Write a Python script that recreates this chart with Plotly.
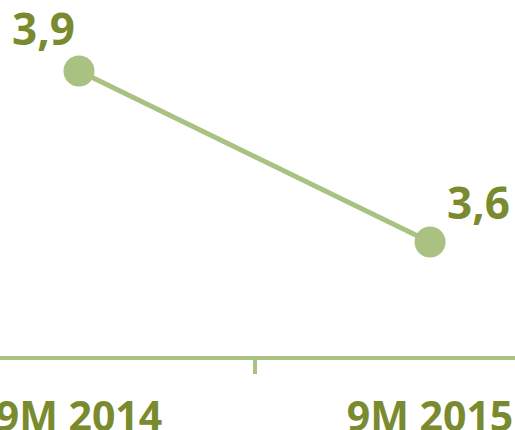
import plotly.graph_objects as go

categories = ["9M 2014", "9M 2015"]
values = [3.9, 3.6]
value_labels = ["3,9", "3,6"]

line_color = "#A9C282"
text_color = "#7A8A2E"
font_family = "Open Sans, Lato, sans-serif"

fig = go.Figure()
fig.add_trace(go.Scatter(
    x=categories, y=values, mode="lines+markers",
    line=dict(color=line_color, width=5),
    marker=dict(size=31, color=line_color),
    hoverinfo="skip", showlegend=False, cliponaxis=False,
))

shifts = [(-35, 43), (48, 40)]
for c, v, t, (dx, dy) in zip(categories, values, value_labels, shifts):
    fig.add_annotation(x=c, y=v, text=f"<b>{t}</b>", showarrow=False,
                       xshift=dx, yshift=dy,
                       font=dict(family=font_family, size=44, color=text_color))

fig.update_layout(
    width=515, height=430,
    margin=dict(l=0, r=0, t=0, b=74, autoexpand=False),
    paper_bgcolor="white", plot_bgcolor="white",
    xaxis=dict(
        type="category", range=[-0.225, 1.242], automargin=False,
        showline=True, linecolor=line_color, linewidth=4,
        ticks="outside", tickson="boundaries", ticklen=14, tickwidth=4, tickcolor=line_color,
        ticklabelstandoff=22,
        showgrid=False, zeroline=False,
        tickfont=dict(family=font_family, size=41, color=text_color, weight="bold"),
    ),
    yaxis=dict(range=[3.4, 4.0246], visible=False, showgrid=False, zeroline=False, automargin=False),
)

fig.write_html("out.html", config={"displayModeBar": False},
               post_script="document.body.style.margin='0';")
